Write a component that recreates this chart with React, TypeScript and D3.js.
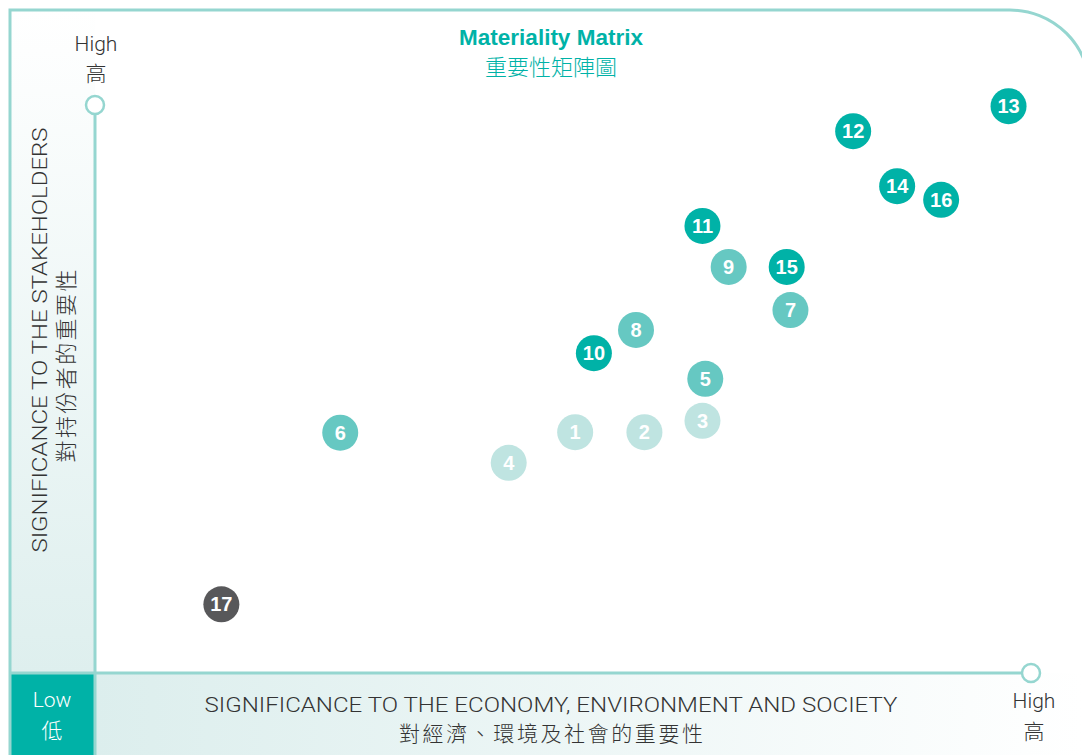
import React from "react";
import * as d3 from "d3";

const ids = [1, 2, 3, 4, 5, 6, 7, 8, 9, 10, 11, 12, 13, 14, 15, 16, 17];
const econValues = [5.13, 5.87, 6.49, 4.42, 6.52, 2.62, 7.43, 5.78, 6.77, 5.33, 6.49, 8.1, 9.76, 8.57, 7.39, 9.04, 1.35];
const stakeValues = [4.24, 4.24, 4.44, 3.7, 5.18, 4.23, 6.39, 6.04, 7.15, 5.63, 7.87, 9.54, 9.98, 8.57, 7.15, 8.33, 1.21];
const tiers = ["low", "low", "low", "low", "mid", "mid", "mid", "mid", "mid", "high", "high", "high", "high", "high", "high", "high", "other"];
const tierNames = ["low", "mid", "high", "other"];
const tierColors = ["#bfe4e1", "#66c8c2", "#00b2a7", "#58585a"];

const W = 1082;
const H = 755;
const teal = "#00b2a7";
const lineCol = "#95d6d0";
const textCol = "#333333";
const font = "Roboto, 'Liberation Sans', Arial, sans-serif";
const boldFont = "'Liberation Sans', Arial, sans-serif";
const cjk = "'Noto Sans CJK TC', sans-serif";

export default function App() {
  const x = d3.scaleLinear().domain([0, 10]).range([95, 1031]);
  const y = d3.scaleLinear().domain([0, 10]).range([673, 105]);
  const color = d3.scaleOrdinal<string, string>().domain(tierNames).range(tierColors);
  const points = ids.map((id, i) => ({ id, ex: econValues[i], st: stakeValues[i], tier: tiers[i] }));

  const axisY = 673;
  const axisX = 95;

  return (
    <svg width={W} height={H} style={{ position: "absolute", left: 0, top: 0, background: "#fff" }}>
      <defs>
        <linearGradient id="leftGrad" x1="0" y1="0" x2="0" y2="1">
          <stop offset="0" stopColor="#ffffff" />
          <stop offset="1" stopColor="#deefee" />
        </linearGradient>
        <linearGradient id="bottomGrad" x1="0" y1="0" x2="1" y2="0">
          <stop offset="0" stopColor="#dceeed" />
          <stop offset="1" stopColor="#ffffff" />
        </linearGradient>
      </defs>
      <rect x={10} y={10} width={axisX - 10} height={axisY - 10} fill="url(#leftGrad)" />
      <rect x={axisX} y={axisY} width={W - axisX} height={H - axisY} fill="url(#bottomGrad)" />
      <rect x={10} y={axisY} width={axisX - 10} height={H - axisY} fill={teal} />

      <path d="M10,760 V10 H1010 A80,80 0 0 1 1090,90 V760" fill="none" stroke={lineCol} strokeWidth={3} />
      <line x1={axisX} y1={114} x2={axisX} y2={H} stroke={lineCol} strokeWidth={3} />
      <line x1={10} y1={axisY} x2={1022} y2={axisY} stroke={lineCol} strokeWidth={3} />
      <circle cx={axisX} cy={105} r={9} fill="#fff" stroke={lineCol} strokeWidth={2.5} />
      <circle cx={1031} cy={axisY} r={9} fill="#fff" stroke={lineCol} strokeWidth={2.5} />

      <text x={551} y={45} textAnchor="middle" fontFamily={boldFont} fontWeight="bold" fontSize={22.5} fill={teal}>Materiality Matrix</text>
      <text x={551} y={75} textAnchor="middle" fontFamily={cjk} fontWeight={300} fontSize={22} fill={teal}>重要性矩陣圖</text>

      <text x={96} y={51} textAnchor="middle" fontFamily={font} fontWeight={300} fontSize={21} fill={textCol}>High</text>
      <text x={96} y={81} textAnchor="middle" fontFamily={cjk} fontWeight={300} fontSize={21} fill={textCol}>高</text>

      <text x={1034} y={708} textAnchor="middle" fontFamily={font} fontWeight={300} fontSize={21} fill={textCol}>High</text>
      <text x={1034} y={739} textAnchor="middle" fontFamily={cjk} fontWeight={300} fontSize={21} fill={textCol}>高</text>

      <text x={52} y={707} textAnchor="middle" fontFamily={font} fontWeight={300} fontSize={21} fill="#fff">Low</text>
      <text x={52} y={738} textAnchor="middle" fontFamily={cjk} fontWeight={300} fontSize={21} fill="#fff">低</text>

      <text x={551} y={712} textAnchor="middle" fontFamily={font} fontWeight={300} fontSize={20} fill={textCol} textLength={693} lengthAdjust="spacingAndGlyphs">SIGNIFICANCE TO THE ECONOMY, ENVIRONMENT AND SOCIETY</text>
      <text x={551} y={741} textAnchor="middle" fontFamily={cjk} fontWeight={300} fontSize={21} fill={textCol} textLength={304} lengthAdjust="spacing">對經濟、環境及社會的重要性</text>

      <text transform="translate(47,340) rotate(-90)" textAnchor="middle" fontFamily={font} fontWeight={300} fontSize={21} fill={textCol} textLength={425} lengthAdjust="spacingAndGlyphs">SIGNIFICANCE TO THE STAKEHOLDERS</text>
      <text transform="translate(74,366) rotate(-90)" textAnchor="middle" fontFamily={cjk} fontWeight={300} fontSize={22} fill={textCol} textLength={193} lengthAdjust="spacing">對持份者的重要性</text>

      {points.map((p) => (
        <g key={p.id} transform={`translate(${x(p.ex)},${y(p.st)})`}>
          <circle r={18} fill={color(p.tier)} />
          <text y={7} textAnchor="middle" fontFamily={boldFont} fontWeight="bold" fontSize={20} fill="#fff">{p.id}</text>
        </g>
      ))}
    </svg>
  );
}
